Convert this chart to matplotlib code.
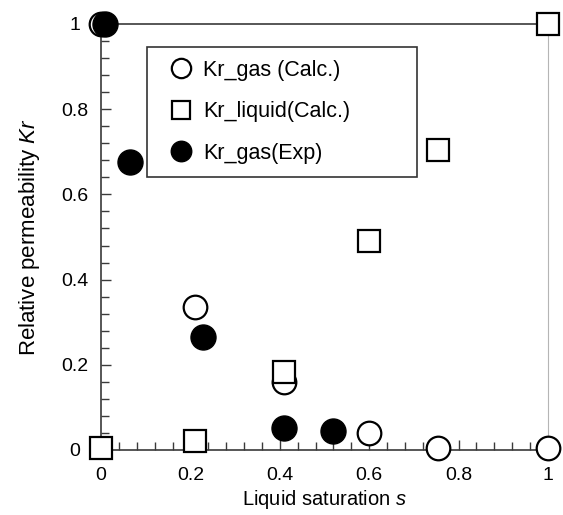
import matplotlib
matplotlib.use("Agg")
import matplotlib.pyplot as plt
from matplotlib.ticker import MultipleLocator

plt.rcParams["font.family"] = ["Liberation Sans", "DejaVu Sans"]
plt.rcParams["mathtext.fontset"] = "custom"
plt.rcParams["mathtext.it"] = "Liberation Sans:italic"
plt.rcParams["mathtext.rm"] = "Liberation Sans"

# calculated curves (liquid saturation s, relative permeability Kr)
s_calc = [0.0, 0.21, 0.41, 0.60, 0.755, 1.0]
kr_gas_calc = [1.0, 0.336, 0.16, 0.039, 0.004, 0.004]
kr_liq_calc = [0.004, 0.021, 0.184, 0.491, 0.704, 1.0]

# experimental gas relative permeability
s_exp = [0.009, 0.065, 0.229, 0.41, 0.518]
kr_gas_exp = [1.0, 0.675, 0.265, 0.052, 0.045]

dark = "#3a3a3a"

fig = plt.figure(figsize=(5.63, 5.15), dpi=100)
ax = fig.add_axes([101 / 563, 1 - 450 / 515, 447 / 563, 426 / 515])

ax.plot(s_calc, kr_gas_calc, "o", ms=17, mfc="white", mec="black", mew=1.6,
        clip_on=False, zorder=5, label="Kr_gas (Calc.)")
ax.plot(s_calc, kr_liq_calc, "s", ms=16, mfc="white", mec="black", mew=1.6,
        clip_on=False, zorder=6, label="Kr_liquid(Calc.)")
ax.plot(s_exp, kr_gas_exp, "o", ms=18, mfc="black", mec="black", mew=1.0,
        clip_on=False, zorder=7, label="Kr_gas(Exp)")

ax.set_xlim(0, 1)
ax.set_ylim(0, 1)

for side in ["left", "bottom", "top"]:
    ax.spines[side].set_color(dark)
    ax.spines[side].set_linewidth(1.2)
ax.spines["right"].set_color("#b5b5b5")
ax.spines["right"].set_linewidth(0.8)

ax.xaxis.set_major_locator(MultipleLocator(0.2))
ax.xaxis.set_minor_locator(MultipleLocator(0.04))
ax.yaxis.set_major_locator(MultipleLocator(0.2))
ax.yaxis.set_minor_locator(MultipleLocator(0.04))
ax.set_xticks([0, 0.2, 0.4, 0.6, 0.8, 1.0], ["0", "0.2", "0.4", "0.6", "0.8", "1"])
ax.set_yticks([0, 0.2, 0.4, 0.6, 0.8, 1.0], ["0", "0.2", "0.4", "0.6", "0.8", "1"])

ax.tick_params(which="both", direction="in", color=dark, width=1.0,
               top=False, right=False, labelsize=14)
ax.tick_params(which="major", length=7)
ax.tick_params(which="minor", length=6)
ax.tick_params(axis="x", pad=12)
ax.tick_params(axis="y", pad=19)
for lbl in ax.get_yticklabels():
    lbl.set_horizontalalignment("center")

ax.set_xlabel("Liquid saturation $\\mathit{s}$", fontsize=14.5, labelpad=3)
ax.set_ylabel("Relative permeability $\\mathit{Kr}$", fontsize=16, labelpad=14)

leg = ax.legend(loc="upper left", bbox_to_anchor=(0.103, 0.946, 0.604, 0.0),
                mode="expand", fontsize=15.5, frameon=True, fancybox=False,
                edgecolor="black", markerscale=0.82, handlelength=2.0,
                handletextpad=0.0, labelspacing=0.95, borderpad=0.6,
                borderaxespad=0)
leg.get_frame().set_linewidth(1.2)
leg.set_zorder(4)

fig.savefig("out.png", dpi=100, facecolor="white")
